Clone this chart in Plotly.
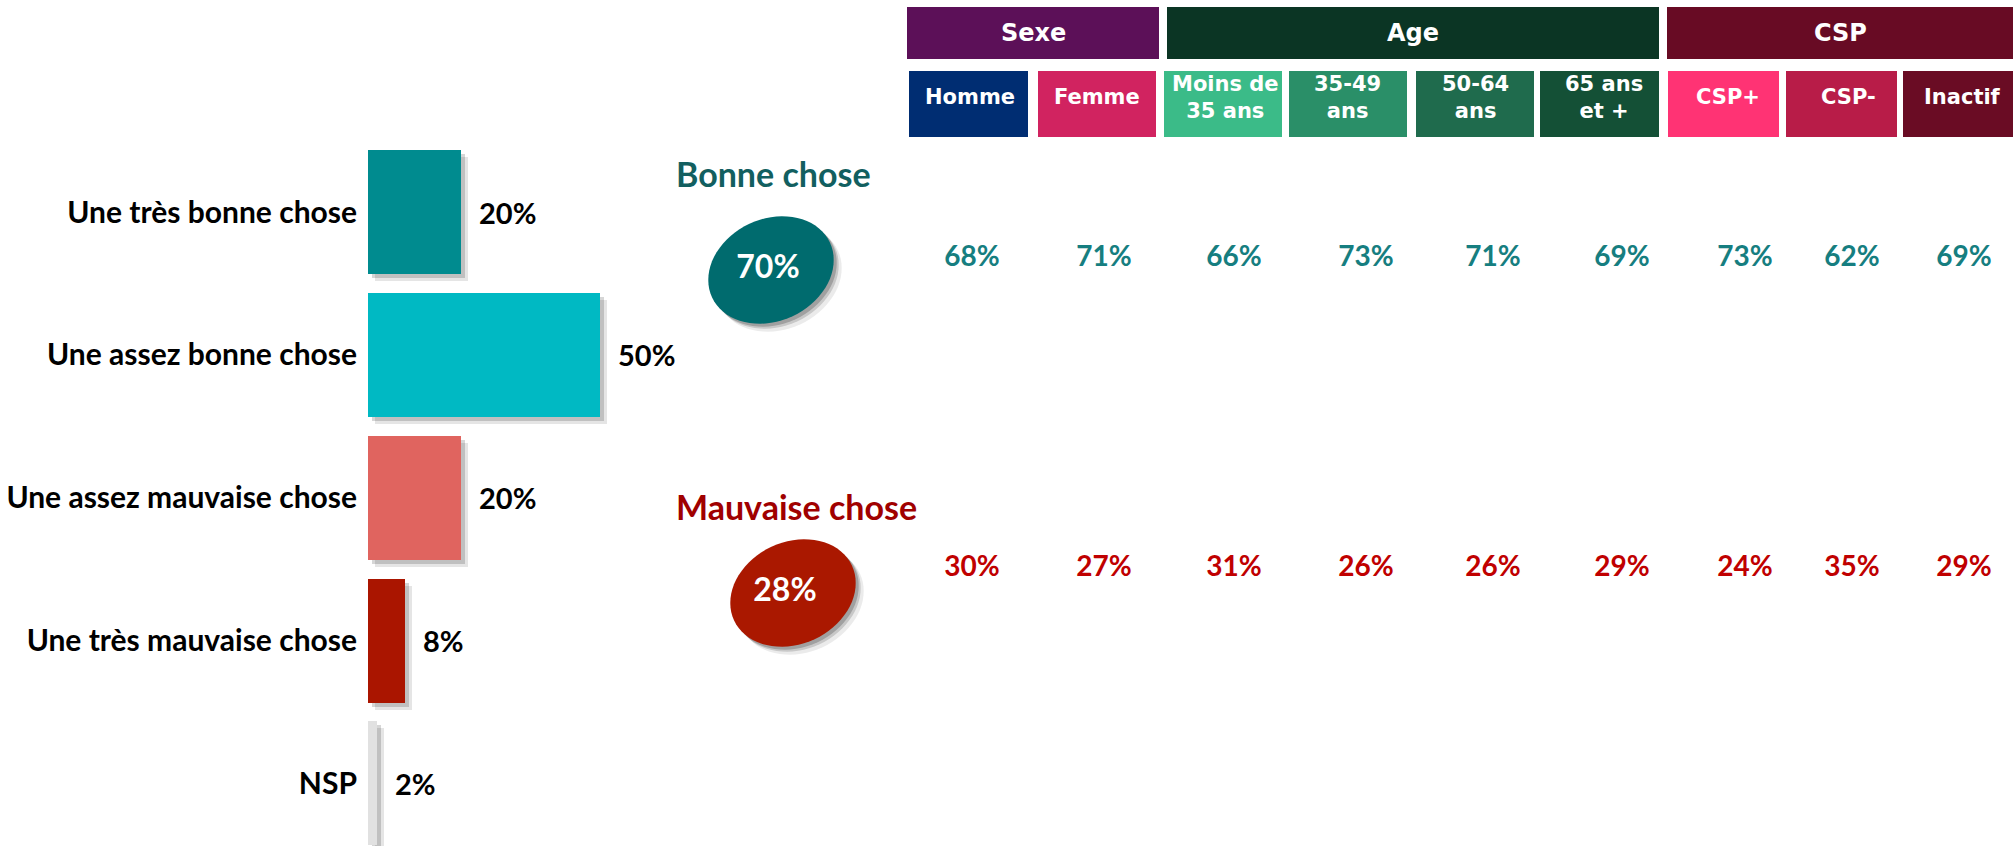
import numpy as np
import plotly.graph_objects as go

# ---------------- data ----------------
categories = ["Une très bonne chose", "Une assez bonne chose",
              "Une assez mauvaise chose", "Une très mauvaise chose", "NSP"]
values = [20, 50, 20, 8, 2]
bar_colors = ["#008b8f", "#00b9c3", "#e0645f", "#aa1500", "#e1e1e1"]

groups = ["Sexe", "Age", "CSP"]
subgroups = ["Homme", "Femme", "Moins de<br>35 ans", "35-49<br>ans", "50-64<br>ans",
             "65 ans<br>et +", "CSP+", "CSP-", "Inactif"]
bonne = [68, 71, 66, 73, 71, 69, 73, 62, 69]
mauvaise = [30, 27, 31, 26, 26, 29, 24, 35, 29]
totals = [70, 28]
total_titles = ["Bonne chose", "Mauvaise chose"]

# ---------------- layout helpers (pixel geometry) ----------------
W, H = 2016, 846
group_boxes = [(907, 1159), (1167, 1659), (1667, 2013)]
group_colors = ["#5c1058", "#0b3524", "#680b24"]
sub_boxes = [(909, 1028), (1038, 1156), (1164, 1282), (1289, 1407), (1416, 1534),
             (1540, 1659), (1668, 1779), (1786, 1897), (1903, 2013)]
sub_colors = ["#002d72", "#d12360", "#3bbb88", "#2a8f68", "#1f6b4d",
              "#145036", "#ff3374", "#b81c48", "#6a0c24"]
sub_text_x = [970, 1097, 1225, 1347, 1475, 1604, 1728, 1848, 1962]
value_x = [972, 1104, 1234, 1366, 1493, 1622, 1745, 1852, 1964]
row_y = [259, 569]
row_colors = ["#167e80", "#c00000"]
ell_centers = [(771, 270), (793, 593)]
ell_colors = ["#006b6e", "#aa1800"]
title_y = [173, 506]
title_colors = ["#125f60", "#a00000"]

# bar axes geometry
zero_px, px_per_pct = 368, 4.64
pitch, c0 = 142.75, 212
bw = 124 / pitch
top_px = c0 - pitch / 2
y_bottom_val = (H - c0) / pitch

BOLD_LATO = dict(family="Lato", weight="bold")

fig = go.Figure()

# bar shadows
for dx, dy, alpha in [(7, 7, 0.10), (4, 4, 0.16)]:
    fig.add_trace(go.Bar(
        y=categories, x=values, base=dx / px_per_pct, orientation="h",
        width=bw, offset=-bw / 2 + dy / pitch,
        marker=dict(color=f"rgba(0,0,0,{alpha})", line=dict(width=0)),
        hoverinfo="skip", showlegend=False, xaxis="x", yaxis="y"))

fig.add_trace(go.Bar(
    y=categories, x=values, orientation="h", width=bw,
    marker=dict(color=bar_colors, line=dict(width=0)),
    showlegend=False, xaxis="x", yaxis="y"))

annotations = []
for c, v in zip(categories, values):
    annotations.append(dict(x=v, y=c, xref="x", yref="y", text=f"{v}%",
                            showarrow=False, xanchor="left", yanchor="middle",
                            xshift=16, font=dict(size=29, color="#000000", **BOLD_LATO)))

# ---------------- right part on pixel axes ----------------
shapes = []


def ellipse_path(cx, cy, a, b, ang):
    t = np.linspace(0, 2 * np.pi, 73)
    th = np.radians(ang)
    xs = cx + a * np.cos(t) * np.cos(th) - b * np.sin(t) * np.sin(th)
    ys = cy + a * np.cos(t) * np.sin(th) + b * np.sin(t) * np.cos(th)
    return "M " + " L ".join(f"{x:.1f},{y:.1f}" for x, y in zip(xs, ys)) + " Z"


for (cx, cy), col in zip(ell_centers, ell_colors):
    for dx, dy, alpha in [(8, 8, 0.08), (5, 5, 0.15), (3, 3, 0.2)]:
        shapes.append(dict(type="path", xref="x2", yref="y2", layer="below",
                           path=ellipse_path(cx + dx, cy + dy, 65, 51, -25),
                           fillcolor=f"rgba(0,0,0,{alpha})", line=dict(width=0)))
    shapes.append(dict(type="path", xref="x2", yref="y2", layer="below",
                       path=ellipse_path(cx, cy, 65, 51, -25),
                       fillcolor=col, line=dict(width=0)))

for (x0, x1), col, g in zip(group_boxes, group_colors, groups):
    shapes.append(dict(type="rect", xref="x2", yref="y2", x0=x0, x1=x1, y0=7, y1=59,
                       fillcolor=col, line=dict(width=0), layer="below"))
    annotations.append(dict(x=(x0 + x1) / 2, y=33, xref="x2", yref="y2", text=g,
                            showarrow=False, xanchor="center", yanchor="middle",
                            font=dict(family="DejaVu Sans", weight="bold", size=24,
                                      color="white")))

for (x0, x1), col, s, tx in zip(sub_boxes, sub_colors, subgroups, sub_text_x):
    shapes.append(dict(type="rect", xref="x2", yref="y2", x0=x0, x1=x1, y0=71, y1=137,
                       fillcolor=col, line=dict(width=0), layer="below"))
    annotations.append(dict(x=tx, y=97, xref="x2", yref="y2", text=s,
                            showarrow=False, xanchor="center", yanchor="middle",
                            font=dict(family="DejaVu Sans", weight="bold", size=21,
                                      color="white")))

for t, ty, col in zip(total_titles, title_y, title_colors):
    annotations.append(dict(x=674, y=ty, xref="x2", yref="y2", text=t,
                            showarrow=False, xanchor="left", yanchor="middle",
                            font=dict(size=34, color=col, **BOLD_LATO)))

# total values inside ellipses
fig.add_trace(go.Scatter(
    x=[ell_centers[0][0] - 3, ell_centers[1][0] - 8], y=[c[1] for c in ell_centers],
    mode="text", text=[f"{v}%" for v in totals], textposition="middle center",
    textfont=dict(size=32, color="white", **BOLD_LATO),
    showlegend=False, hoverinfo="skip", xaxis="x2", yaxis="y2"))

for vals, ry, col in zip([bonne, mauvaise], row_y, row_colors):
    fig.add_trace(go.Scatter(
        x=value_x, y=[ry] * len(vals), mode="text",
        text=[f"{v}%" for v in vals], textposition="middle center",
        textfont=dict(size=28, color=col, **BOLD_LATO),
        showlegend=False, hoverinfo="skip", xaxis="x2", yaxis="y2"))

fig.update_layout(
    width=W, height=H, margin=dict(l=0, r=0, t=0, b=0),
    paper_bgcolor="white", plot_bgcolor="rgba(0,0,0,0)",
    barmode="overlay", bargap=0,
    shapes=shapes, annotations=annotations,
    xaxis=dict(domain=[zero_px / W, (zero_px + 100 * px_per_pct) / W], range=[0, 100],
               visible=False, fixedrange=True),
    yaxis=dict(domain=[0, 1 - top_px / H], range=[y_bottom_val, -0.5],
               type="category", showgrid=False, zeroline=False, showline=False,
               ticks="", ticklabelstandoff=10,
               tickfont=dict(size=30, color="#000000", **BOLD_LATO), fixedrange=True),
    xaxis2=dict(domain=[0, 1], range=[0, W], visible=False, anchor="y2", fixedrange=True),
    yaxis2=dict(domain=[0, 1], range=[H, 0], visible=False, anchor="x2", fixedrange=True),
)

fig.write_html("out.html")
